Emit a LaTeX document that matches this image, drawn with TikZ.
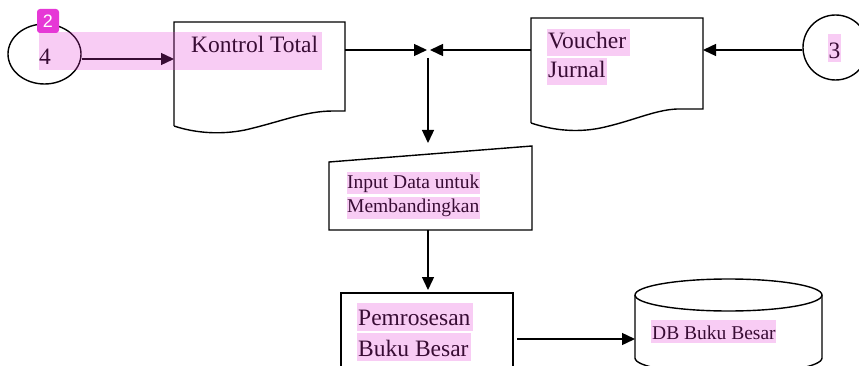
\documentclass[tikz,border=0pt]{standalone}
\usepackage{fontspec}
\setmainfont{Liberation Serif}
\setsansfont{Liberation Sans}
\usetikzlibrary{arrows.meta,calc,shapes.geometric}
\definecolor{hl}{RGB}{227,51,211}
\definecolor{badgec}{RGB}{230,56,214}
\begin{document}
\begin{tikzpicture}[x=1pt,y=-1pt,
  plain/.style={draw=black,line width=1.4pt},
  conn/.style={draw=black,line width=1.4pt,-{Triangle[length=13pt,width=12pt]}},
  big/.style={inner sep=0pt,anchor=base west,font=\fontsize{23.5}{28}\selectfont},
  small/.style={inner sep=0pt,anchor=base west,font=\fontsize{19.5}{23}\selectfont},
  hlmark/.style={fill=hl,fill opacity=0.25,draw=none}]
\useasboundingbox (0,0) rectangle (859,366);
\clip (0,0) rectangle (859,366);

% connector circles
\node[plain,ellipse,minimum width=73pt,minimum height=60pt,inner sep=0pt] (c4) at (44.5,54) {};
\node[plain,circle,minimum size=65pt,inner sep=0pt] (c3) at (835.5,47.5) {};

% document: Kontrol Total
\draw[plain] (174,126) -- (174,22) -- (345,22) -- (345,111) -- (333,111)
  .. controls (305,111) and (280,122) .. (245,130)
  .. controls (220,135) and (195,133) .. (174,126);
% document: Voucher Jurnal
\draw[plain] (531,123) -- (531,18) -- (703,18) -- (703,109) -- (677,109)
  .. controls (655,110) and (635,120) .. (605,127)
  .. controls (580,133) and (555,131) .. (531,123);
% manual input
\draw[plain] (329,162) -- (532,146) -- (532,230) -- (329,230) -- cycle;
% process box
\draw[plain] (341,400) -- (341,293) -- (513,293) -- (513,400);
% database cylinder
\draw[plain] (728.5,295) ellipse [x radius=93.5pt,y radius=16pt];
\draw[plain] (635,295) -- (635,358) arc[start angle=180,end angle=360,x radius=93.5pt,y radius=16pt] -- (822,295);

% connector ends
\coordinate (kt-in) at (174,59);
\coordinate (kt-e) at (345,50);
\coordinate (vj-w) at (531,50);
\coordinate (vj-e) at (703,50);
\coordinate (jn-l) at (427,50);
\coordinate (jn-r) at (430,50);
\coordinate (jn-top) at (428,58);
\coordinate (in-top) at (428,143);
\coordinate (in-bot) at (428,230);
\coordinate (pb-top) at (428,290);
\coordinate (pb-e) at (517,339);
\coordinate (db-w) at (635,339);

\draw[conn] (c4.east |- kt-in) -- (kt-in);
\draw[conn] (kt-e) -- (jn-l);
\draw[conn] (vj-w) -- (jn-r);
\draw[conn] (c3.west |- vj-e) -- (vj-e);
\draw[conn] (jn-top) -- (in-top);
\draw[conn] (in-bot) -- (pb-top);
\draw[conn] (pb-e) -- (db-w);

% texts
\node[big] (t4) at (39,65) {4};
\node[big] (tkt) at (191,53) {Kontrol Total};
\node[big] (tv1) at (548,49) {Voucher};
\node[big] (tv2) at (548,78) {Jurnal};
\node[big] (t3) at (828.5,59) {3};
\node[small] (tin1) at (347,189) {Input Data untuk};
\node[small] (tin2) at (347,213) {Membandingkan};
\node[big] (tp1) at (358,325) {Pemrosesan};
\node[big] (tp2) at (358,356) {Buku Besar};
\node[small] (tdb) at (652,339) {DB Buku Besar};

% highlights
\fill[hlmark] (39,32) rectangle (322,70);
\fill[hlmark] (547,29) rectangle (630,56);
\fill[hlmark] (547,58) rectangle (607,85);
\fill[hlmark] (828,34) rectangle (841,62);
\fill[hlmark] (347,172) rectangle (480,194);
\fill[hlmark] (347,197) rectangle (480,219);
\fill[hlmark] (357,303) rectangle (473,331);
\fill[hlmark] (357,333) rectangle (471,361);
\fill[hlmark] (651,320) rectangle (776,343);

% badge
\node[fill=badgec,rounded corners=3pt,minimum width=22pt,minimum height=24pt,inner sep=0pt,
  text=white,font=\sffamily\fontsize{18}{18}\selectfont] (badge) at (48,21) {2};
\end{tikzpicture}
\end{document}
